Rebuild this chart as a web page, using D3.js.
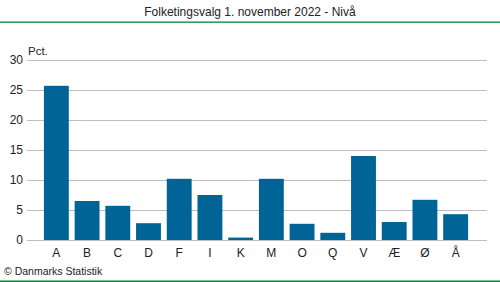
<!DOCTYPE html>
<html>
<head>
<meta charset="utf-8">
<script src="https://cdn.jsdelivr.net/npm/d3@7/dist/d3.min.js"></script>
<style>
  body { margin: 0; background: #fff; }
  text { font-family: "Liberation Sans", Arial, sans-serif; fill: #222; }
</style>
</head>
<body>
<script>
// Data
var parties = ['A', 'B', 'C', 'D', 'F', 'I', 'K', 'M', 'O', 'Q', 'V', 'Æ', 'Ø', 'Å'];
var shares = [25.7, 6.5, 5.7, 2.8, 10.2, 7.5, 0.4, 10.2, 2.7, 1.2, 14.0, 3.0, 6.7, 4.3];
var yTicks = [0, 5, 10, 15, 20, 25, 30];

var width = 500, height = 282;
var plot = { left: 27, right: 487, top: 60, bottom: 240 };

var svg = d3.select('body').append('svg')
  .attr('width', width)
  .attr('height', height);

// Scales
var x = d3.scaleBand()
  .domain(parties)
  .range([41, 471])
  .paddingInner(0.19)
  .paddingOuter(0.095);

var y = d3.scaleLinear()
  .domain([0, 30])
  .range([plot.bottom, plot.top]);

// Title
svg.append('text')
  .attr('x', 250)
  .attr('y', 16)
  .attr('text-anchor', 'middle')
  .style('font-size', '12px')
  .text('Folketingsvalg 1. november 2022 - Nivå');

svg.append('rect')
  .attr('x', 0).attr('y', 21.5)
  .attr('width', width).attr('height', 1.3)
  .attr('fill', '#00843d');

// Gridlines
svg.append('g')
  .selectAll('line')
  .data(yTicks).enter()
  .append('line')
    .attr('x1', plot.left)
    .attr('x2', plot.right)
    .attr('y1', function(d) { return Math.round(y(d)) + 0.5; })
    .attr('y2', function(d) { return Math.round(y(d)) + 0.5; })
    .attr('stroke', '#bcbcc4')
    .attr('stroke-width', 1);

// Y axis labels
var yAxis = svg.append('g')
  .attr('transform', 'translate(23,0)')
  .call(d3.axisLeft(y).tickValues(yTicks).tickSize(0).tickPadding(0));
yAxis.select('.domain').remove();
yAxis.selectAll('text')
  .style('font-size', '12px')
  .style('font-family', '"Liberation Sans", Arial, sans-serif')
  .attr('fill', '#222');

svg.append('text')
  .attr('x', 28)
  .attr('y', 55)
  .style('font-size', '11.5px')
  .text('Pct.');

// Bars
svg.append('g')
  .selectAll('rect')
  .data(parties).enter()
  .append('rect')
    .attr('x', function(d) { return x(d); })
    .attr('width', x.bandwidth())
    .attr('y', function(d, i) { return y(shares[i]); })
    .attr('height', function(d, i) { return y(0) - y(shares[i]); })
    .attr('fill', '#006496');

// X axis labels
var xAxis = svg.append('g')
  .attr('transform', 'translate(0,' + plot.bottom + ')')
  .call(d3.axisBottom(x).tickSize(0).tickPadding(8));
xAxis.select('.domain').remove();
xAxis.selectAll('text')
  .style('font-size', '12px')
  .style('font-family', '"Liberation Sans", Arial, sans-serif')
  .attr('fill', '#222');

// Source
svg.append('text')
  .attr('x', 4)
  .attr('y', 275)
  .style('font-size', '10.5px')
  .text('© Danmarks Statistik');

svg.append('rect')
  .attr('x', 0).attr('y', 280.5)
  .attr('width', width).attr('height', 1.5)
  .attr('fill', '#00843d');
</script>
</body>
</html>
